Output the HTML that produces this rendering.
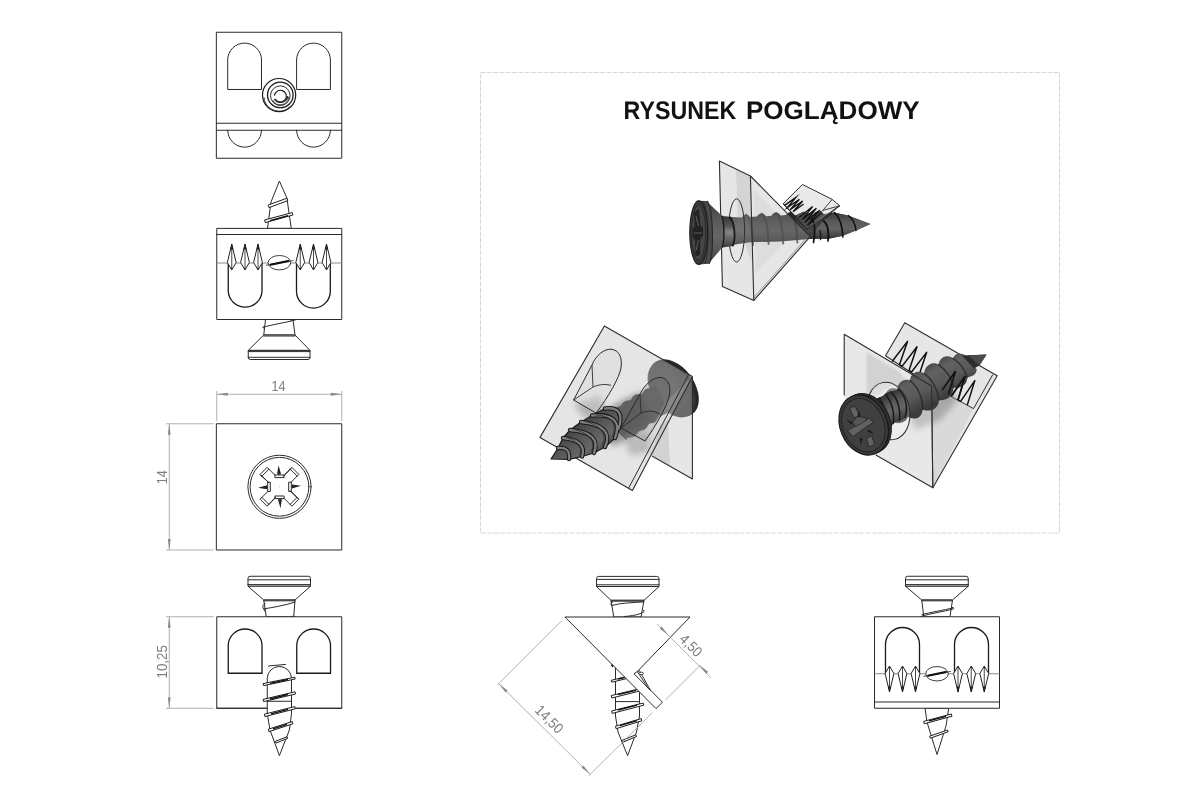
<!DOCTYPE html>
<html>
<head>
<meta charset="utf-8">
<title>Rysunek</title>
<style>
html,body{margin:0;padding:0;background:#fff;}
body{width:1200px;height:800px;overflow:hidden;position:relative;font-family:"Liberation Sans",sans-serif;}
svg{position:absolute;left:0;top:0;}
text{text-rendering:geometricPrecision;}
svg{filter:grayscale(1);}
.l{fill:none;stroke:#2a2a2a;stroke-width:1;stroke-linejoin:round;stroke-linecap:round;}
.lw{fill:#fff;stroke:#2a2a2a;stroke-width:1;stroke-linejoin:round;}
.t{fill:none;stroke:#1a1a1a;stroke-width:1.3;}
.d{fill:none;stroke:#9c9c9c;stroke-width:0.8;}
.da{fill:#8a8a8a;stroke:none;}
.dt{font-family:"Liberation Sans",sans-serif;font-size:14.6px;fill:#7e7e7e;text-anchor:middle;}
.title{font-family:"Liberation Sans",sans-serif;font-weight:bold;font-size:25.4px;fill:#111;text-anchor:middle;}
</style>
</head>
<body>
<svg width="1200" height="800" viewBox="0 0 1200 800">
<defs>
  <linearGradient id="gScrewB" x1="575" y1="420" x2="598" y2="452" gradientUnits="userSpaceOnUse">
    <stop offset="0" stop-color="#3c3c3c"/><stop offset="0.45" stop-color="#575757"/><stop offset="0.8" stop-color="#686868"/><stop offset="1" stop-color="#505050"/>
  </linearGradient>
  <linearGradient id="gShaftC" x1="915" y1="368" x2="934" y2="404" gradientUnits="userSpaceOnUse">
    <stop offset="0" stop-color="#444"/><stop offset="0.3" stop-color="#616161"/><stop offset="0.6" stop-color="#5a5a5a"/><stop offset="1" stop-color="#3a3a3a"/>
  </linearGradient>
  <linearGradient id="gNeckC" x1="880" y1="395" x2="896" y2="426" gradientUnits="userSpaceOnUse">
    <stop offset="0" stop-color="#2c2c2c"/><stop offset="0.4" stop-color="#5c5c5c"/><stop offset="0.6" stop-color="#666"/><stop offset="1" stop-color="#2e2e2e"/>
  </linearGradient>
  <filter id="blurB" x="-30%" y="-30%" width="160%" height="160%"><feGaussianBlur stdDeviation="3"/></filter>
  <filter id="blurS" x="-30%" y="-30%" width="160%" height="160%"><feGaussianBlur stdDeviation="1.2"/></filter>
  <radialGradient id="gHeadB" cx="0.4" cy="0.45" r="0.65">
    <stop offset="0" stop-color="#5c5c5c"/><stop offset="0.6" stop-color="#4a4a4a"/><stop offset="1" stop-color="#383838"/>
  </radialGradient>
  <linearGradient id="gShaftA" x1="0" y1="214" x2="0" y2="244" gradientUnits="userSpaceOnUse">
    <stop offset="0" stop-color="#2a2a2a"/><stop offset="0.3" stop-color="#3e3e3e"/><stop offset="0.55" stop-color="#474747"/><stop offset="0.85" stop-color="#333"/><stop offset="1" stop-color="#1c1c1c"/>
  </linearGradient>
  <linearGradient id="gShaftA2" x1="0" y1="212" x2="0" y2="240" gradientUnits="userSpaceOnUse">
    <stop offset="0" stop-color="#3a3a3a"/><stop offset="0.35" stop-color="#5a5a5a"/><stop offset="0.6" stop-color="#626262"/><stop offset="0.85" stop-color="#444"/><stop offset="1" stop-color="#252525"/>
  </linearGradient>
  <linearGradient id="gNeckA" x1="0" y1="216" x2="0" y2="248" gradientUnits="userSpaceOnUse">
    <stop offset="0" stop-color="#333"/><stop offset="0.3" stop-color="#555"/><stop offset="0.5" stop-color="#858585"/><stop offset="0.68" stop-color="#6a6a6a"/><stop offset="1" stop-color="#3a3a3a"/>
  </linearGradient>
  <linearGradient id="gConeA" x1="0" y1="201" x2="0" y2="264" gradientUnits="userSpaceOnUse">
    <stop offset="0" stop-color="#3c3c3c"/><stop offset="0.3" stop-color="#5a5a5a"/><stop offset="0.55" stop-color="#666"/><stop offset="0.8" stop-color="#565656"/><stop offset="1" stop-color="#3a3a3a"/>
  </linearGradient>
  <!-- tooth diamond, pointing up, origin at widest point centre -->
  <g id="toothU">
    <path d="M0,-18.5 L4.4,0 L0,7.4 L-4.4,0 Z" fill="#fff" stroke="#222" stroke-width="1" stroke-linejoin="round"/>
    <path d="M0,-19 L1.5,-13 L-1.5,-13 Z M0,7.6 L1,5.4 L-1,5.4 Z" fill="#111"/>
    <path d="M0,-18 L0,7" fill="none" stroke="#333" stroke-width="0.9"/>
  </g>
  <g id="toothD">
    <path d="M0,18.5 L4.4,0 L0,-7.4 L-4.4,0 Z" fill="#fff" stroke="#222" stroke-width="1" stroke-linejoin="round"/>
    <path d="M0,19 L1.5,13 L-1.5,13 Z M0,-7.6 L1,-5.4 L-1,-5.4 Z" fill="#111"/>
    <path d="M0,18 L0,-7" fill="none" stroke="#333" stroke-width="0.9"/>
  </g>
</defs>

<!-- ============ dashed frame + title ============ -->
<rect x="480.5" y="72.5" width="579" height="460.5" fill="none" stroke="#d2d2d2" stroke-width="0.9" stroke-dasharray="5 1.3"/>
<text class="title" x="623.6" y="118.9" textLength="112.8" lengthAdjust="spacingAndGlyphs" style="text-anchor:start">RYSUNEK</text>
<text class="title" x="746" y="118.9" textLength="173.6" lengthAdjust="spacingAndGlyphs" style="text-anchor:start">POGLĄDOWY</text>

<!-- ============ VIEW 1 : back ============ -->
<g id="v1">
  <rect class="l" x="216.75" y="32.25" width="125" height="126"/>
  <path class="l" d="M227.7,89.1 L227.7,60 A16.9,16.9 0 0 1 261.5,60 L261.5,89.1 Z"/>
  <path class="l" d="M296.6,89.1 L296.6,60 A16.9,16.9 0 0 1 330.4,60 L330.4,89.1 Z"/>
  <path class="l" d="M216.75,123.25 H341.75 M216.75,130.25 H341.75"/>
  <path class="l" d="M227.7,130.25 A16.9,16.9 0 0 0 261.5,130.25"/>
  <path class="l" d="M296.6,130.25 A16.9,16.9 0 0 0 330.4,130.25"/>
  <!-- spiral -->
  <g fill="none" stroke="#1a1a1a">
    <circle cx="279.1" cy="95.1" r="16.6" stroke-width="1.2"/>
    <path d="M263.9,97 A15.3,15.3 0 0 0 290.5,106" stroke-width="0.8"/>
    <circle cx="280.3" cy="94.9" r="12.8" stroke-width="1.3"/>
    <circle cx="280.3" cy="95.7" r="9.8" stroke-width="0.9"/>
    <path d="M274.4,95.6 A6,6 0 1 1 276,100.4" stroke-width="1.1"/>
    <path d="M274.6,99 A7.2,7.2 0 0 0 287.6,96" stroke-width="1.9" stroke="#333"/>
    <path d="M272.6,100 A8.6,8.6 0 0 0 288.8,97.4" stroke-width="0.8"/>
  </g>
</g>

<!-- ============ VIEW 2 : top ============ -->
<g id="v2">
  <!-- screw tip above -->
  <path class="lw" d="M279.4,181 L271,202 L267.5,228.4 L291.25,228.4 L286.9,198 Z"/>
  <g>
    <path d="M268.2,205 L287,198.2 L287.8,200.6 L269,207.6 Z" fill="#fff" stroke="#1e1e1e" stroke-width="1" stroke-linejoin="round"/>
    <path d="M264.6,220 L292.2,212.6 L292.9,215 L265.3,222.6 Z" fill="#fff" stroke="#1e1e1e" stroke-width="1" stroke-linejoin="round"/>
    <path d="M270,220.6 L288,215.6" stroke="#111" stroke-width="1.4" fill="none"/>
  </g>
  <!-- screw head below -->
  <path class="lw" d="M265.5,319.5 L263.75,335 L295,335 L293,319.5 Z"/>
  <path class="l" stroke-width="1.5" d="M264,327 C271,325 285,322.5 293,320.6"/><path class="l" d="M264,326.4 C262.4,326.6 262.4,328.4 264,328.2 M291,320.2 q2,-1.4 4,0"/>
  <path class="lw" d="M263.75,335 L295,335 L310,350.4 L248.25,350.4 Z"/>
  <path class="lw" d="M248.25,350.4 L310,350.4 L310,357.5 Q310,359.5 308,359.5 L250.25,359.5 Q248.25,359.5 248.25,357.5 Z"/>
  <path class="l" d="M248.25,351.6 H310 M248.25,357.3 H310"/>
  <path class="l" d="M263.75,336 H295" stroke-width="0.8"/>
  <!-- body -->
  <rect class="lw" x="216.75" y="228.4" width="125" height="91.1"/>
  <path class="l" d="M216.75,234.5 H341.75"/>
  <path d="M216.75,263 H341.75" fill="none" stroke="#8a8a8a" stroke-width="1"/>
  <path class="t" d="M228.25,263 L228.25,291.2 A16.9,16.9 0 0 0 262,291.2 L262,263"/>
  <path class="t" d="M296.5,263 L296.5,291.2 A16.9,16.9 0 0 0 330.3,291.2 L330.3,263"/>
  <use href="#toothU" x="231.75" y="262.5"/><use href="#toothU" x="245" y="262.5"/><use href="#toothU" x="258" y="262.5"/>
  <use href="#toothU" x="300.25" y="262.5"/><use href="#toothU" x="313.5" y="262.5"/><use href="#toothU" x="326.5" y="262.5"/>
  <ellipse cx="279.4" cy="262.7" rx="11.3" ry="7.2" fill="#fff" stroke="#2a2a2a" stroke-width="0.9"/>
  <path d="M266,265.3 L293.5,260.5" stroke="#2a2a2a" stroke-width="0.8" fill="none"/>
  <path d="M270.5,265.2 L288.5,261.4 L288.5,260.4 L270.5,264.2Z" stroke="#111" stroke-width="1.2" fill="#111"/>
</g>

<!-- ============ VIEW 3 : front w/ pozidriv ============ -->
<g id="v3">
  <rect class="l" x="216.75" y="423.75" width="125" height="126.25" stroke-width="1.35" stroke="#333"/>
  <circle class="l" cx="279.5" cy="486.8" r="31.6"/>
  <circle class="l" cx="279.5" cy="486.8" r="29.4"/>
  <g transform="translate(279.5,486.8)">
    <path class="l" stroke-width="1.1" d="M-19.4,-12.4 L-12.4,-19.4 L-4.8,-11.8 L4.8,-11.8 L12.4,-19.4 L19.4,-12.4 L11.8,-4.8 L11.8,4.8 L19.4,12.4 L12.4,19.4 L4.8,11.8 L-4.8,11.8 L-12.4,19.4 L-19.4,12.4 L-11.8,4.8 L-11.8,-4.8 Z"/>
    <!-- arm end insets -->
    <path class="l" stroke-width="0.8" d="M-17.6,-10.6 L-10.6,-17.6 M10.6,-17.6 L17.6,-10.6 M17.6,10.6 L10.6,17.6 M-10.6,17.6 L-17.6,10.6"/>
    <!-- inner shading lines along arms -->
    <path class="l" stroke-width="0.8" d="M-18.2,-11.6 L-10.6,-4 M11.6,-18.2 L4,-10.6 M18.2,11.6 L10.6,4 M-11.6,18.2 L-4,10.6"/>
    <!-- flats small rects -->
    <path class="l" stroke-width="0.8" d="M-4.6,-11.8 v2.6 h9.2 v-2.6 M-4.6,11.8 v-2.6 h9.2 v2.6 M-11.8,-4.6 h2.6 v9.2 h-2.6 M11.8,-4.6 h-2.6 v9.2 h2.6"/>
    <!-- spikes -->
    <path fill="#222" d="M-1,-21.5 L1.6,-12.5 L-2.4,-12.5 Z M1,21.5 L-1.6,12.5 L2.4,12.5 Z M-21.5,1 L-12.5,-1.6 L-12.5,2.4 Z M21.5,-1 L12.5,1.6 L12.5,-2.4 Z"/>
    <path class="l" stroke-width="0.6" d="M-0.6,-16 V-12 M0.6,16 V12 M-16,0.6 H-12 M16,-0.6 H12"/>
    <circle cx="0" cy="0" r="0.4" fill="#555"/>
  </g>
  <!-- dims -->
  <path class="d" d="M216.75,391 V421 M341.75,391 V421 M216.75,394.25 H341.75"/>
  <path class="da" d="M216.75,394.25 l11,-1.4 v2.8 Z M341.75,394.25 l-11,-1.4 v2.8 Z"/>
  <text class="dt" transform="translate(278.4,391.3) scale(0.86,1)">14</text>
  <path class="d" d="M166,423.75 H213.75 M166,550 H213.75 M169.25,423.75 V550"/>
  <path class="da" d="M169.25,423.75 l-1.4,11 h2.8 Z M169.25,550 l-1.4,-11 h2.8 Z"/>
  <text class="dt" transform="translate(166.8,477.2) rotate(-90) scale(0.86,1)">14</text>
</g>

<!-- ============ VIEW 4 : side ============ -->
<g id="v4">
  <!-- head -->
  <path class="lw" d="M250.2,576.25 L308.3,576.25 Q310.5,576.25 310.5,578.4 L310.5,586.25 L248,586.25 L248,578.4 Q248,576.25 250.2,576.25 Z"/>
  <path class="l" d="M248,579.8 H310.5 M248,584.6 H310.5" stroke-width="0.8"/>
  <path class="lw" d="M248,586.25 L310.5,586.25 L295,600 L263.75,600 Z"/>
  <path class="lw" d="M263.75,600 L295,600 L293.75,616.75 L266.25,616.75 Z"/>
  <path class="l" d="M263.75,600.8 H295" stroke-width="0.8"/>
  <path class="l" d="M263.5,609 C272,607.5 285,605.5 295,602 M263.5,609 C262,606 263,604 265,603.5 M265.5,612 C264,611 264,609.5 265,609"/>
  <path class="l" d="M291,616.75 q2,-1.5 4,0"/>
  <!-- body -->
  <rect class="lw" x="216.75" y="616.75" width="125" height="91.5"/>
  <path class="t" d="M228.25,673.25 L228.25,645 A16.9,16.9 0 0 1 262,645 L262,673.25 Z"/>
  <path class="t" d="M296.75,673.25 L296.75,645 A16.9,16.9 0 0 1 330.5,645 L330.5,673.25 Z"/>
  <!-- screw -->
  <path class="lw" d="M267.25,713.75 L267.25,678.6 A12.1,12.1 0 0 1 291.5,678.6 L291.5,713.75 L289.4,730 L279.4,755.6 L270,730 Z"/>
  <path class="l" d="M268.5,666 L285.6,664.4"/>
  <path class="l" d="M267.25,701.25 H291.5 M216.75,708.25 H267.25 M291.5,708.25 H341.75" />
  <g fill="#fff" stroke="#1e1e1e" stroke-width="1" stroke-linejoin="round">
    <path d="M263,683.6 L294.8,677.2 L295.2,679 L263.6,685.6 Z"/>
    <path d="M263,699.4 L295,691.8 L295.5,694 L263.6,701.6 Z"/>
    <path d="M264.3,714.2 L294.8,706.6 L295.3,708.8 L264.9,716.6 Z"/>
    <path d="M268.3,729.2 L292.3,721.6 L292.9,723.8 L269,731.6 Z"/>
    <path d="M275.3,741.3 L287.1,736.8 L287.7,738.4 L276,743 Z"/>
  </g>
  <g stroke="#111" stroke-width="1.3" fill="none">
    <path d="M270,683.3 L288,679.5 M270,699 L288,694.5 M271,713.8 L288,709.4 M273,728.8 L287,724.4"/>
  </g>
  <!-- dims -->
  <path class="d" d="M166,616.75 H213.75 M166,708.25 H213.75 M169.25,616.75 V708.25"/>
  <path class="da" d="M169.25,616.75 l-1.4,11 h2.8 Z M169.25,708.25 l-1.4,-11 h2.8 Z"/>
  <text class="dt" transform="translate(166.8,661.8) rotate(-90) scale(0.915,1)">10,25</text>
</g>

<!-- ============ VIEW 5 : 45deg profile ============ -->
<g id="v5">
  <!-- head -->
  <path class="lw" d="M598.7,576.4 L656.8,576.4 Q659,576.4 659,578.6 L659,586.5 L596.5,586.5 L596.5,578.6 Q596.5,576.4 598.7,576.4 Z"/>
  <path class="l" d="M596.5,579.4 H659 M596.5,584.8 H659" stroke-width="0.8"/>
  <path class="lw" d="M596.5,586.5 L659,586.5 L644,600.3 L611,600.3 Z"/>
  <path class="lw" d="M611,600.3 L644,600.3 L641,617 L613.8,617 Z"/>
  <path class="l" d="M611,601.2 H644" stroke-width="0.8"/>
  <path class="l" d="M611.5,605.5 C620,603 633,602.5 643,602 M611.5,605.5 C610.5,604 611,602.5 612.5,602.2 M624,616.5 C632,616 640,614.5 643.5,612 C644.8,611.3 644.5,610 643.3,610.3"/>
  <!-- screw below -->
  <path class="lw" d="M615.5,664 L615.5,716 L618,732 L627.6,755.6 L636.5,732 L639.5,716 L639.5,683 Z"/>
  <path class="l" d="M615.5,701.6 H639.5"/>
  <g fill="#fff" stroke="#1e1e1e" stroke-width="1" stroke-linejoin="round">
    <path d="M611.2,680.3 L627,676.6 L627.4,678.4 L611.8,682.2 Z"/>
    <path d="M611.2,695.6 L638.4,689 L638.9,691.2 L611.8,698 Z"/>
    <path d="M611.6,711 L643.2,703 L643.7,705.2 L612.2,713.4 Z"/>
    <path d="M615.4,726.3 L641.2,718.6 L641.8,720.8 L616.1,728.7 Z"/>
    <path d="M621.6,740.6 L635.8,734.8 L636.5,736.5 L622.4,742.4 Z"/>
  </g>
  <g stroke="#111" stroke-width="1.3" fill="none">
    <path d="M618,679 L625,677.4 M618,694.6 L636,690.4 M618,710 L637,705.2 M620,725.6 L637,720.6"/>
  </g>
  <!-- V plate -->
  <path class="lw" d="M564.9,617 L690,617 L637.6,671.2 L634,673.8 L662.5,702.2 L656,708.6 Z" stroke-width="1.35"/>
  <path d="M637.4,671.6 L639.4,670.6 L650.4,690.2 L648.6,688.8 Z" fill="#fff" stroke="#1e1e1e" stroke-width="0.9" stroke-linejoin="round"/>
  <ellipse cx="641.3" cy="673.4" rx="2.3" ry="1.2" fill="#fff" stroke="#1e1e1e" stroke-width="0.8"/>
  <path d="M611.3,664.6 L613.2,666.6" stroke="#222" stroke-width="1.6" fill="none"/>
  <!-- dims -->
  <path class="d" d="M562,620.4 L497.3,685.1 M652.5,712.5 L588.5,776 M498.8,683.7 L590.2,774.3"/>
  <path class="da" d="M498.8,683.7 l8.8,6.8 l-2,2 Z M590.2,774.3 l-8.8,-6.8 l2,-2 Z"/>
  <text class="dt" transform="translate(545.7,722.7) rotate(45) scale(0.915,1)">14,50</text>
  <path class="d" d="M665.5,700 L700.5,665 M657,624 L711.2,678"/>
  <path class="da" d="M668.5,635.4 l-8.8,-6.8 l2,-2 Z M699.3,665 l8.8,6.8 l-2,2 Z"/>
  <text class="dt" transform="translate(687.5,648.9) rotate(45) scale(0.89,1)">4,50</text>
</g>

<!-- ============ VIEW 6 : bottom ============ -->
<g id="v6">
  <!-- head -->
  <path class="lw" d="M907.7,576.25 L966,576.25 Q968.25,576.25 968.25,578.4 L968.25,586.25 L905.5,586.25 L905.5,578.4 Q905.5,576.25 907.7,576.25 Z"/>
  <path class="l" d="M905.5,579.8 H968.25 M905.5,584.6 H968.25" stroke-width="0.8"/>
  <path class="lw" d="M905.5,586.25 L968.25,586.25 L952.5,600 L921.75,600 Z"/>
  <path class="lw" d="M921.75,600 L952.5,600 L950,616.75 L923.75,616.75 Z"/>
  <path class="l" d="M921.75,600.8 H952.5" stroke-width="0.8"/>
  <path class="l" d="M920.5,616.5 C930,613.5 944,611.5 953.3,609 C954.3,608 953.3,606.8 952.3,607.5 M922,614.5 C930,612.5 944,610 952.5,608"/>
  <!-- tip -->
  <path class="lw" d="M925,708.25 L927,722 L937,754.5 L946,726 L948.75,708.25 Z"/>
  <g fill="#fff" stroke="#1e1e1e" stroke-width="1" stroke-linejoin="round">
    <path d="M923.6,721.4 L951.4,714 L952,716.2 L924.2,723.8 Z"/>
    <path d="M929.6,736.2 L947.6,730 L948.2,731.8 L930.3,738.2 Z"/>
  </g>
  <path d="M929,720.8 L946,716.4" stroke="#111" stroke-width="1.3" fill="none"/>
  <!-- body -->
  <rect class="lw" x="874.5" y="616.75" width="125" height="91.5"/>
  <path class="l" d="M874.5,702 H999.5"/>
  <path d="M874.5,673.75 H999.5" fill="none" stroke="#8a8a8a" stroke-width="1"/>
  <path class="t" d="M885.5,673.75 L885.5,644.5 A17,17 0 0 1 919.5,644.5 L919.5,673.75"/>
  <path class="t" d="M954.5,673.75 L954.5,644.5 A17,17 0 0 1 988.5,644.5 L988.5,673.75"/>
  <use href="#toothD" x="889.5" y="673.5"/><use href="#toothD" x="902.5" y="673.5"/><use href="#toothD" x="915.5" y="673.5"/>
  <use href="#toothD" x="958" y="673.5"/><use href="#toothD" x="971.25" y="673.5"/><use href="#toothD" x="984.25" y="673.5"/>
  <ellipse cx="937" cy="673.75" rx="11.3" ry="7.2" fill="#fff" stroke="#2a2a2a" stroke-width="0.9"/>
  <path d="M923.5,676.4 L951,671.4" stroke="#2a2a2a" stroke-width="0.8" fill="none"/>
  <path d="M928,676.2 L946,672.4 L946,671.4 L928,675.2Z" stroke="#111" stroke-width="1.2" fill="#111"/>
</g>

<!-- ============ RENDER A (top) ============ -->
<g id="rA">
  <!-- tab (behind) -->
  <path d="M783.2,203.7 L802.5,184.5 L832.2,199.4 L839.6,205.8 L809,231 Z" fill="#e9e9e9" stroke="#2e2e2e" stroke-width="1" stroke-linejoin="round"/>
  <path d="M832.2,199.4 L822.8,210.4 L839.6,205.8 M822.8,210.4 L806,228" fill="none" stroke="#2e2e2e" stroke-width="0.9"/>
  <!-- shaft (full length) -->
  <path d="M722,216.4 L742,217.4 C744,213.5 748,213.5 750,217 L757,216.6 C759,212.4 764,212.4 766,216.2 L771.5,215.8 C773.5,211.6 778.5,211.6 780.5,215.4 L786,215 C788,211.4 792.5,211.6 794.5,215 L809.5,216.6 L834,212.4 L848,215.4 L870.4,223.9 L856.7,230.2 L842.7,235.8 L828.7,238.8 L809.5,239 L780,241.4 L750,242.2 L722,246.6 Z" fill="url(#gShaftA)"/>
  <!-- thread bumps through plates -->
  <g fill="none" stroke="#1e1e1e" stroke-width="2" stroke-linecap="round" opacity="0.75">
    <path d="M761.5,213.6 C765.5,216 768,228 768.6,244"/>
    <path d="M776,213 C780,215.4 782.6,228 783.2,243.6"/>
    <path d="M790.4,212.8 C794,215 796.8,227 797.4,242.6"/>
    <path d="M746,214.6 C749.6,217 752.4,230 753,245"/>
  </g>
  <!-- triangle plate -->
  <path d="M750.4,176 L810.2,236.6 L753.8,300.4 Z" fill="rgba(175,175,175,0.31)" stroke="none"/>
  <path d="M754,190 L789,226 L786,240 L755.5,274 Z" fill="rgba(120,120,120,0.08)"/>
  <path d="M750.4,176 L810.2,236.6 L753.8,300.4" fill="none" stroke="#2e2e2e" stroke-width="1.1" stroke-linejoin="round"/>
  <path d="M808.8,235.4 L752.8,298.8" fill="none" stroke="#666" stroke-width="0.6"/>
  <!-- teeth on tab -->
  <path d="M796,215 L803.6,211.6 L810,213.8 L820.5,210.4 L824.4,214.6 L806.6,229.2 Z" fill="#4e4e4e"/>
  <g fill="none" stroke="#101010" stroke-width="1.35" stroke-linejoin="miter" stroke-miterlimit="8">
    <path d="M784.6,205.4 L796,197.4 L787.4,207.6 L799.4,199.2 L790.2,209.8 L802.6,201 L793,211.8 L803.6,204"/>
    <path d="M799,217.6 L812.6,206.6 L802,219.8 L816.4,208.4 L804.8,222.4 L819.6,210.2 L807.4,225.4 L821.6,212.6"/>
  </g>
  <g fill="none" stroke="#ddd" stroke-width="0.6"><path d="M812,209.6 L809,213 M815.6,211.2 L812.6,214.6"/></g>
  <!-- exposed shaft right (re-draw over tab edge) -->
  <path d="M811.5,236.2 L822,222 L834,212.4 L848,215.4 L870.4,223.9 L856.7,230.2 L842.7,235.8 L828.7,238.8 L811,238 Z" fill="url(#gShaftA2)"/>
  <g fill="none" stroke="#111" stroke-width="1.7" stroke-linecap="round">
    <path d="M811.5,219 C815,222 815.5,232 813.5,242.5"/>
    <path d="M823.5,221 C828,224 829,232 828,241"/>
    <path d="M834.5,212.6 C840.5,218 842.5,228 842.8,237"/>
    <path d="M848.5,215.6 C853,219 855.5,225 856,230.6" stroke-width="1.4"/>
    <path d="M820,230.5 C821,234 821,237 820.5,239.5" stroke-width="1.3"/>
  </g>
  <path d="M783.2,203.7 L806.6,229.2 L839.6,205.8" fill="none" stroke="#2a2a2a" stroke-width="1.1" stroke-linejoin="round"/>
  <path d="M806.6,229.2 L824.4,214.6 L839.6,205.8 Z" fill="rgba(225,225,225,0.35)"/>
  <!-- front plate -->
  <path d="M719.4,161 L750.4,176 L753.8,300.4 L722.4,286.4 Z" fill="rgba(185,185,185,0.36)" stroke="none"/>
  <path d="M736,170 L750.4,177 L751.6,262 L738,226 Z" fill="rgba(120,120,120,0.16)"/>
  <path d="M719.4,161 L750.4,176 L753.8,300.4 L722.4,286.4 Z" fill="none" stroke="#2e2e2e" stroke-width="1.1" stroke-linejoin="round"/>
  <ellipse cx="736.6" cy="230.4" rx="8" ry="31.6" fill="none" stroke="#2e2e2e" stroke-width="1"/>
  <!-- neck in front of plate -->
  <path d="M721.7,216 L731,217 C735.5,222 736.5,240 733.5,246 L722.2,247.6 Z" fill="url(#gNeckA)"/>
  <path d="M729.5,217 C735,222 736,240 732.5,246.2" fill="none" stroke="#1a1a1a" stroke-width="1.8"/>
  <!-- head -->
  <path d="M706.5,201.2 L721.7,215.6 C724.5,224 724.8,239 722.2,247.6 L708.6,263.6 Z" fill="url(#gConeA)"/>
  <path d="M721.7,215.6 C724.5,224 724.8,239 722.2,247.6" fill="none" stroke="#1a1a1a" stroke-width="1.4"/>
  <path d="M697,200.8 L707,201 C713.5,208 714.2,256 709,263.8 L698.6,264.4 Z" fill="#4a4a4a"/>
  <path d="M707,201 C713.5,208 714.2,256 709,263.8" fill="none" stroke="#2a2a2a" stroke-width="1.2"/>
  <path d="M703,201 C709,210 709.6,255 704.6,264" fill="none" stroke="#2e2e2e" stroke-width="0.9"/>
  <ellipse cx="698.8" cy="232.6" rx="9" ry="31.8" fill="#3b3b3b" stroke="#1e1e1e" stroke-width="1.2"/>
  <ellipse cx="698.6" cy="232.6" rx="7" ry="27.5" fill="#454545" stroke="#262626" stroke-width="0.8"/>
  <g fill="#1c1c1c">
    <path d="M694,212 L699,209 L700.5,226 L703,227.5 L703,236 L700.4,238 L700,255 L695.5,256.5 L695,240 L692.6,237.5 L692.4,229 L694.6,226.5 Z" opacity="0.85"/>
  </g>
  <g fill="none" stroke="#5c5c5c" stroke-width="1.1">
    <path d="M696,216 L698.6,226 M696.2,250 L698.4,240 M693.6,233 H702"/>
  </g>
</g>

<!-- ============ RENDER B (bottom-left) ============ -->
<g id="rB">
  <!-- screw head behind plates -->
  <ellipse cx="674" cy="388" rx="20.5" ry="32" transform="rotate(-35 674 388)" fill="#262626"/>
  <ellipse cx="671.5" cy="389.6" rx="19.8" ry="31" transform="rotate(-35 671.5 389.6)" fill="url(#gHeadB)"/>
  <!-- shaft behind plate -->
  <path d="M612,412 C616,404 620,409 622,404 C626,398 630,403 632,398 C636,391 641,397 643,392 C647,386 652,390 656,385 L668,412 C662,418 660,413 657,420 C653,426 650,420 647,427 C643,433 640,428 637,434 C633,440 629,435 626,440 L618,432 Z" fill="#3a3a3a"/>
  <!-- right plate (semi) -->
  <path d="M692.4,376.4 L692.4,479 L640,449 L664,404 Z" fill="rgba(205,205,205,0.5)"/>
  <path d="M692.4,376.4 L692.4,479 L652,456" fill="none" stroke="#2e2e2e" stroke-width="1.1" stroke-linejoin="round"/>
  <!-- main plate -->
  <path d="M604.4,326 L692.4,376.4 L632.4,490.4 L540,437.4 Z" fill="rgba(209,209,209,0.56)"/>
  <path d="M660,425 L668,420 L670,466 L652,456 Z" fill="rgba(120,120,120,0.18)"/>
  <!-- darken head & shaft seen through plate -->
  <g opacity="0.32" fill="#2a2a2a">
    <ellipse cx="673" cy="388.6" rx="20.5" ry="32" transform="rotate(-35 673 388.6)"/>
    <path d="M612,412 C616,404 620,409 622,404 C626,398 630,403 632,398 C636,391 641,397 643,392 C647,386 652,390 656,385 L668,412 C662,418 660,413 657,420 C653,426 650,420 647,427 C643,433 640,428 637,434 C633,440 629,435 626,440 L618,432 Z"/>
  </g>
  <!-- shadow on plate -->
  <g filter="url(#blurB)" opacity="0.55">
    <path d="M596,418 L616,404 L640,392 L650,420 L628,440 L612,446 Z" fill="#555"/>
    <path d="M574,404 L600,396 L606,412 L586,420 Z" fill="#888"/>
    <path d="M624,438 L650,432 L648,452 L630,456 Z" fill="#999"/>
  </g>
  <path d="M604.4,326 L692.4,376.4 L632.4,490.4 L540,437.4 Z" fill="none" stroke="#2e2e2e" stroke-width="1.1" stroke-linejoin="round"/>
  <path d="M688.6,374.6 L628.6,488.2" fill="none" stroke="#2e2e2e" stroke-width="1"/>
  <!-- slot 1 -->
  <path d="M573.6,400 L592,365 C596,355 604,349 611,349.2 C619,350 622.5,357 621,368 C620,376 608,398 596,413 Z" fill="rgba(215,215,215,0.35)" stroke="#2a2a2a" stroke-width="1" stroke-linejoin="round"/>
  <path d="M592,365 L593,387 L573.6,400 M593,387 C600,384 606,384 611,385.4" fill="none" stroke="#2a2a2a" stroke-width="0.9"/>
  <!-- slot 2 -->
  <path d="M621,428 L640,394 C645,384 653,377.6 660,377.4 C668,378 671,385 669.5,395 C668,404 656,426 645,441 Z" fill="rgba(90,90,90,0.18)" stroke="#2a2a2a" stroke-width="1" stroke-linejoin="round"/>
  <path d="M640,394 L641,413 L621,428 M641,413 C648,410 654,411 660,414" fill="none" stroke="#2a2a2a" stroke-width="0.9"/>
  <!-- front screw -->
  <path d="M551,459 L558,448 L563,438 L570,430 L581,422 L592,415.5 L605,408.5 L616,410 L620,420 L619,430 L615,438 L605,447 L594,453 L582,456.5 L569,459.4 Z" fill="url(#gScrewB)" stroke="#1c1c1c" stroke-width="1.2" stroke-linejoin="round"/>
  <g fill="none" stroke-linecap="round">
    <g stroke="#1a1a1a" stroke-width="4.4">
      <path d="M558,448 Q570.5,446.5 569,459"/><path d="M563,438 Q587.5,440.8 582,456.5"/><path d="M570,430 Q602,432.5 594,453"/><path d="M581,422 Q615,425.5 605,447"/><path d="M592,415.5 Q624.5,413.2 615,438"/><path d="M605,408.5 Q626,406 618.5,429"/>
    </g>
    <g stroke="#7e7e7e" stroke-width="2.3">
      <path d="M558,448 Q570.5,446.5 569,459"/><path d="M563,438 Q587.5,440.8 582,456.5"/><path d="M570,430 Q602,432.5 594,453"/><path d="M581,422 Q615,425.5 605,447"/><path d="M592,415.5 Q624.5,413.2 615,438"/><path d="M605,408.5 Q626,406 618.5,429"/>
    </g>
    <g stroke="#2a2a2a" stroke-width="0.9" opacity="0.8">
      <path d="M566,437 Q585,443 580,455"/><path d="M574,429.4 Q598,435 591.6,451.6"/><path d="M585,421.4 Q610,427.6 602.4,445.6"/><path d="M596,415 Q620,416 612.6,436.6"/>
    </g>
  </g>
</g>

<!-- ============ RENDER C (bottom-right) ============ -->
<g id="rC">
  <!-- back plate -->
  <path d="M904.8,322.8 L997.2,375.7 L932.8,487.7 L931.6,386 L885.5,355.8 Z" fill="#e6e6e6" stroke="#2e2e2e" stroke-width="1.1" stroke-linejoin="round"/>
  <path d="M931.6,386 L973.5,408.6 L992.8,374.6" fill="none" stroke="#2e2e2e" stroke-width="1"/>
  <path d="M931.6,386 L973.5,408.6 L932.8,487.7 Z" fill="rgba(140,140,140,0.14)"/>
  <!-- teeth -->
  <g fill="none" stroke="#101010" stroke-width="1.5" stroke-linejoin="round" stroke-linecap="round">
    <path d="M892.5,361 L907.5,341.4 L899.5,364.6 L902,366.4 L917,346.8 L909,370.4 L911.5,372 L926.6,352.4 L918.6,376.4"/>
    <path d="M942,390.4 L955.6,371 L948.4,394.4 L951.4,396 L965.2,376 L958,400 L960.6,401.4 L974.8,380.6 L967.4,404.6"/>
  </g>
  <!-- shadow of screw on plates -->
  <g filter="url(#blurB)" opacity="0.5">
    <path d="M905,400 L950,388 L958,400 L940,420 L915,430 Z" fill="#777"/>
  </g>
  <!-- front plate -->
  <path d="M844.2,334.2 L931.6,386 L932.8,487.7 L844.7,437 Z" fill="rgba(200,200,200,0.42)"/>
  <g filter="url(#blurS)"><path d="M866.5,352 L900,372 L910,388 L892,386 L876,396 L866.5,400 Z" fill="rgba(130,130,130,0.22)"/></g>
  <!-- shaft (over plate fill) -->
  <path d="M886,394 C887,387 895,388 897.5,389 C898,379 908,379 910,380.4 C911,370 921,370.6 924,373.4 C925.6,362 936,362 938.6,364.6 C940,354.6 950,355 953,358.4 C956,351.6 962,353.6 965,355 L976.8,369.4 C976,376 970,376.6 967.3,377.4 C967,387 958,388.4 953.6,387.4 C953,398 944,401 939,400 C938.6,410 929,412.4 922.6,409.4 C922,419 913,420.4 908,416.6 C906,424 897,424 891.3,422 Z" fill="url(#gShaftC)"/>
  <g fill="none" stroke="#222" stroke-width="1.6" opacity="0.7" stroke-linecap="round">
    <path d="M897.5,389 C904,395 908.6,406 908,416.6"/><path d="M910,380.4 C918,387 923,398 922.6,409.4"/><path d="M924,373.4 C932,379 938,390 939,400"/><path d="M938.6,364.6 C946,370 952,378 953.6,387.4"/><path d="M953,358.4 C960,363 965,370 967.3,377.4"/>
  </g>
  <!-- tip -->
  <path d="M962,355.6 L986.6,354.6 L979.4,365.6 L974,368.6 Z" fill="#2c2c2c"/>
  <path d="M968,355.4 L986.6,354.6 L979.4,365.6 Z" fill="#4a4a4a"/>
  <!-- teeth over shaft -->
  <g fill="none" stroke="#101010" stroke-width="1.6">
    <path d="M942,390.4 L955.6,371 L948.4,394.4 M951.4,396 L965.2,376 L958,400"/>
  </g>
  <path d="M931.6,386 L932.8,487.7 L875.8,454.9 M844.2,395.5 L844.2,334.2 L931.6,386" fill="none" stroke="#2e2e2e" stroke-width="1.1" stroke-linejoin="round"/>
  <ellipse cx="888.5" cy="411" rx="21" ry="29" transform="rotate(-12 888.5 411)" fill="rgba(255,255,255,0.25)" stroke="#2a2a2a" stroke-width="1"/>
  <!-- neck in front -->
  <path d="M873,402 C877,396 882,398 885,394 C889,390 894,392 898,389 C905,394 909,408 905,418 C900,422 897,420 893,424 C891,428 888,427 886,430 Z" fill="url(#gNeckC)"/>
  <g fill="none" stroke="#181818" stroke-width="1.5">
    <path d="M885,394 C892,401 895,414 893,424"/><path d="M890.6,391.6 C898,398 901,411 899.6,421.4"/><path d="M898,389 C905,394 909,408 905,418"/><path d="M878.6,398 C885,404 888,417 887,428.6"/>
  </g>
  <!-- head -->
  <ellipse cx="866.6" cy="423.6" rx="23.6" ry="31" transform="rotate(-22 866.6 423.6)" fill="#303030" stroke="#1a1a1a" stroke-width="1"/>
  <ellipse cx="863.7" cy="425" rx="23.6" ry="31" transform="rotate(-22 863.7 425)" fill="#3a3a3a" stroke="#161616" stroke-width="1.2"/>
  <ellipse cx="863.4" cy="425.2" rx="20.6" ry="27.6" transform="rotate(-22 863.4 425.2)" fill="#404040" stroke="#222" stroke-width="0.9"/>
  <g fill="#626262" stroke="#1e1e1e" stroke-width="0.7" stroke-linejoin="round">
    <path d="M849.6,408.6 L855,406 L859.4,415.6 L854,418 Z"/>
    <path d="M866.6,438.4 L871.6,436 L874.6,444.4 L869,447 Z"/>
    <path d="M847.4,430.6 L861,422.4 L868.6,418.4 L873.8,422.2 L866,427 L853,436.6 Z"/>
    <path d="M852.4,422.6 L857,416.6 L864.4,417.4 L867,420 L855.6,426.6 Z" fill="#565656"/>
  </g>
  <g fill="#1b1b1b">
    <path d="M859,410 L860.6,417 L857.6,416 Z M846,419.4 L853,422.4 L851.6,424.6 Z M874.6,434.4 L867,431.4 L869,429.4 Z M860.6,445.4 L859.4,437.4 L862.6,438.6 Z"/>
  </g>
</g>

<!-- VIEWS GO HERE -->

</svg>
</body>
</html>
